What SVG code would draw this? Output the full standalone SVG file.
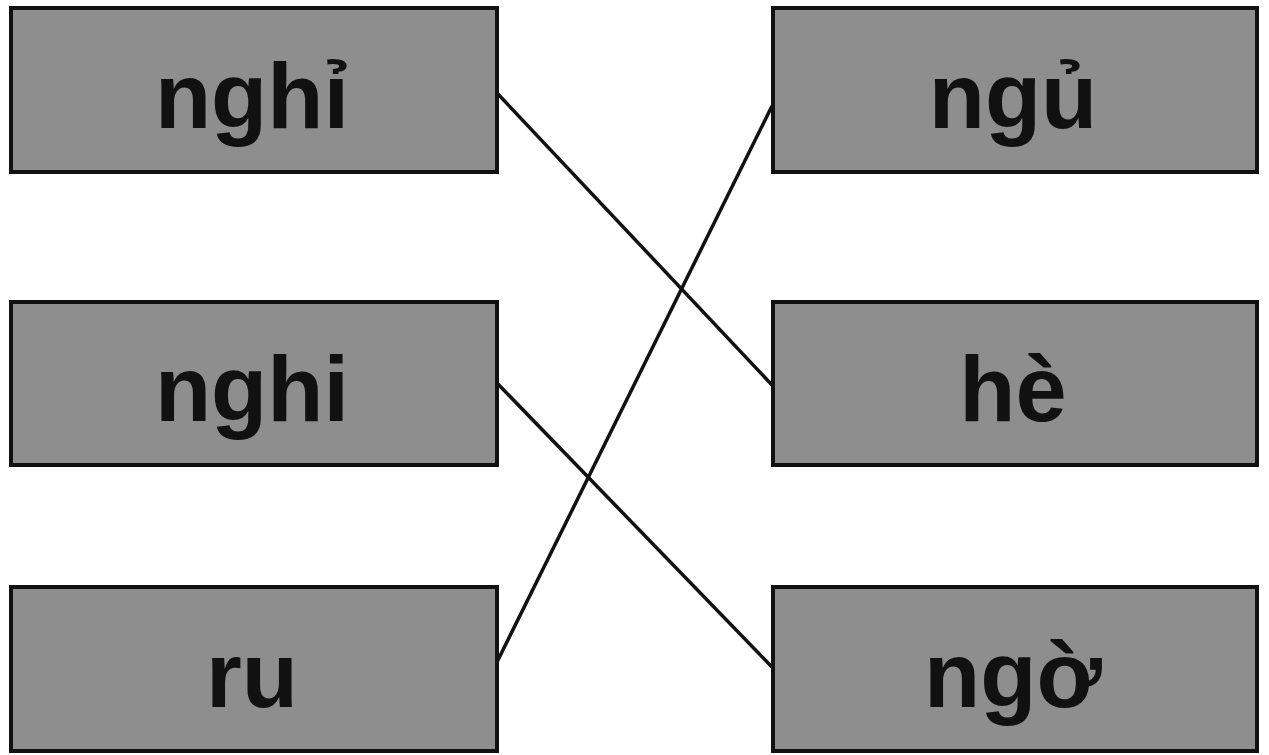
<svg xmlns="http://www.w3.org/2000/svg" width="1269" height="755" viewBox="0 0 1269 755">
<style>
.box{fill:#8e8e8e;stroke:#111;stroke-width:4}
.lbl{font-family:"Liberation Sans",Arial,sans-serif;font-weight:bold;font-size:92px;fill:#111;text-anchor:middle}
.conn{stroke:#111;stroke-width:3.5;fill:none}
</style>
<rect width="1269" height="755" fill="#fff"/>
<g id="connectors">
<line class="conn" x1="497" y1="93" x2="772" y2="385"/>
<line class="conn" x1="497" y1="383" x2="772" y2="667"/>
<line class="conn" x1="497" y1="662" x2="772" y2="106"/>
</g>
<g id="n-nghi-hoi"><rect class="box" x="11" y="8" width="486" height="164"/><text class="lbl" x="252" y="128">nghỉ</text></g>
<g id="n-nghi"><rect class="box" x="11" y="302" width="486" height="163"/><text class="lbl" x="252" y="421">nghi</text></g>
<g id="n-ru"><rect class="box" x="11" y="587" width="486" height="164"/><text class="lbl" x="252" y="707">ru</text></g>
<g id="n-ngu"><rect class="box" x="773" y="8" width="484" height="164"/><text class="lbl" x="1013" y="128">ngủ</text></g>
<g id="n-he"><rect class="box" x="773" y="302" width="484" height="163"/><text class="lbl" x="1013" y="421">hè</text></g>
<g id="n-ngo"><rect class="box" x="773" y="587" width="484" height="164"/><text class="lbl" x="1013" y="707">ngờ</text></g>
</svg>
